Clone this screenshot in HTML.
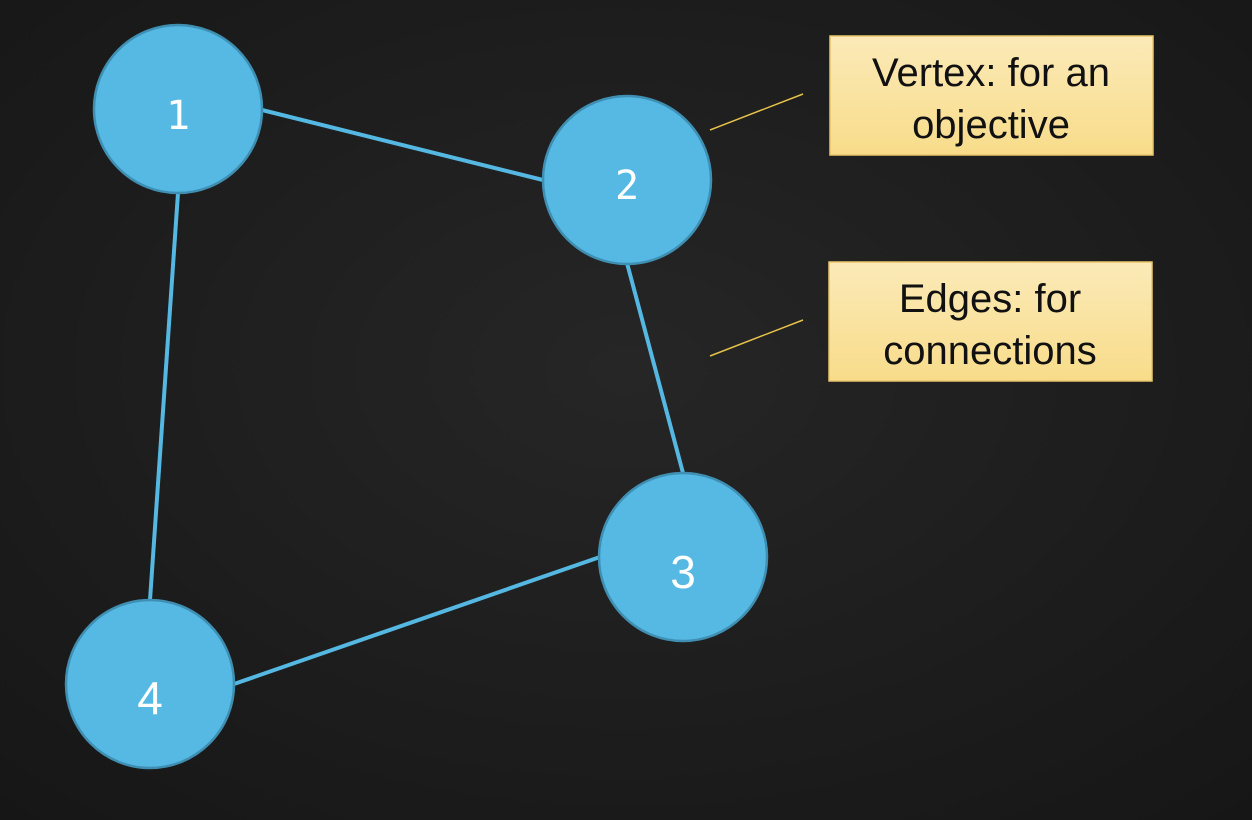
<!DOCTYPE html>
<html><head><meta charset="utf-8"><style>
html,body{margin:0;padding:0;}
body{width:1252px;height:820px;overflow:hidden;background:#1e1e1e;}
svg{display:block;}
</style></head><body>
<svg width="1252" height="820" xmlns="http://www.w3.org/2000/svg">
<defs>
<radialGradient id="bg" cx="50%" cy="45%" r="75%">
<stop offset="0" stop-color="#262626"/><stop offset="1" stop-color="#161616"/>
</radialGradient>
<linearGradient id="box" x1="0" y1="0" x2="0" y2="1">
<stop offset="0" stop-color="#fbeab8"/><stop offset="1" stop-color="#f8dc8a"/>
</linearGradient>
</defs>
<rect width="1252" height="820" fill="url(#bg)"/>
<g stroke="#55b8e2" stroke-width="4">
<line x1="262" y1="110" x2="543" y2="180"/>
<line x1="627" y1="263" x2="683" y2="473"/>
<line x1="178" y1="193" x2="150" y2="600"/>
<line x1="234" y1="684" x2="600" y2="557"/>
</g>
<g fill="#55b9e4" stroke="#3f8fb3" stroke-width="2.5">
<circle cx="178" cy="109" r="84"/>
<circle cx="627" cy="180" r="84"/>
<circle cx="683" cy="557" r="84"/>
<circle cx="150" cy="684" r="84"/>
</g>
<g fill="#fff" font-family="'DejaVu Sans Mono','Liberation Mono',monospace" font-size="40" text-anchor="middle">
<text x="178" y="129">1</text>
<text x="627" y="199">2</text>
</g>
<g fill="#fff" font-family="'Liberation Sans',sans-serif" font-size="46" text-anchor="middle">
<text x="683" y="588">3</text>
<text x="150" y="714">4</text>
</g>
<g stroke="#e7c24a" stroke-width="1.5">
<line x1="710" y1="130" x2="803" y2="94"/>
<line x1="710" y1="356" x2="803" y2="320"/>
</g>
<rect x="830" y="36" width="323" height="119" fill="url(#box)" stroke="#e9c66a" stroke-width="1.5"/>
<rect x="829" y="262" width="323" height="119" fill="url(#box)" stroke="#e9c66a" stroke-width="1.5"/>
<g fill="#111" font-family="'Liberation Sans',sans-serif" font-size="40" text-anchor="middle">
<text x="991" y="86">Vertex: for an</text>
<text x="991" y="138">objective</text>
<text x="990" y="312">Edges: for</text>
<text x="990" y="364">connections</text>
</g>
</svg>
</body></html>
